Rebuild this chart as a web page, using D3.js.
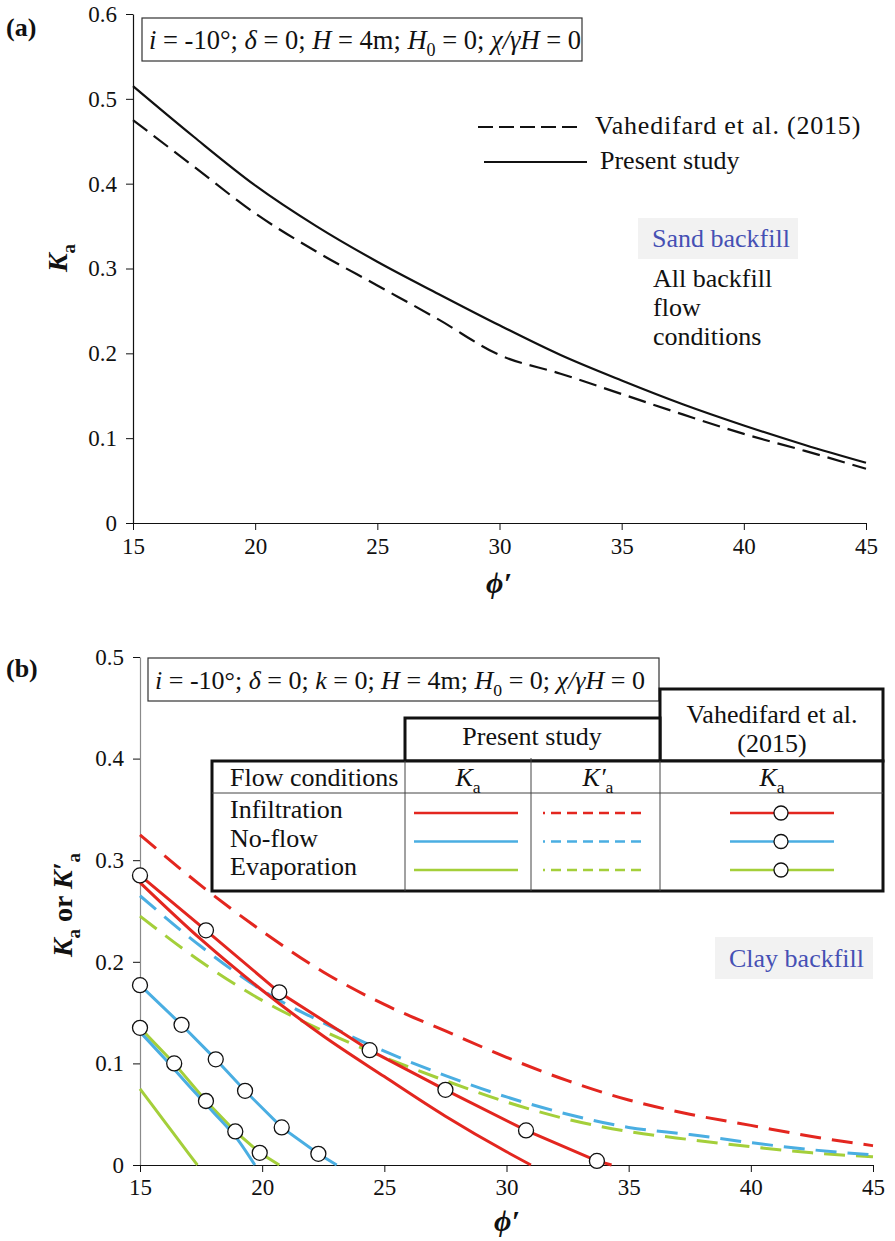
<!DOCTYPE html>
<html>
<head>
<meta charset="utf-8">
<script src="https://cdn.jsdelivr.net/npm/d3@7/dist/d3.min.js"></script>
<style>
  body { margin: 0; background: #fff; }
  svg text { font-family: "Liberation Serif", "Times New Roman", serif; fill: #111; }
</style>
</head>
<body>
<div id="chart"></div>
<script>
// ---- panel (a): sand backfill ----
const phiA = [15, 17.5, 20, 22.5, 25, 27.5, 30, 32.5, 35, 37.5, 40, 42.5, 45];
const presentA = [0.515, 0.455, 0.398, 0.35, 0.308, 0.27, 0.233, 0.198, 0.168, 0.14, 0.115, 0.092, 0.071];
const vahedA = [0.475, 0.42, 0.365, 0.32, 0.28, 0.24, 0.198, 0.176, 0.152, 0.128, 0.105, 0.085, 0.064];
const ticksA_x = [15, 20, 25, 30, 35, 40, 45];
const ticksA_y = [0, 0.1, 0.2, 0.3, 0.4, 0.5, 0.6];

// ---- panel (b): clay backfill ----
const flowNames = ["Infiltration", "No-flow", "Evaporation"];
const flowColors = ["#e3261f", "#4aaee2", "#a4cf3a"];

// K'a (present study, dashed)
const phiB = [15, 17.5, 20, 22.5, 25, 27.5, 30, 32.5, 35, 37.5, 40, 42.5, 45];
const kaPrimeInf = [0.325, 0.275, 0.23, 0.19, 0.158, 0.132, 0.106, 0.083, 0.064, 0.05, 0.039, 0.028, 0.019];
const kaPrimeNo = [0.265, 0.215, 0.172, 0.14, 0.112, 0.088, 0.067, 0.05, 0.037, 0.03, 0.022, 0.015, 0.01];
const kaPrimeEvap = [0.245, 0.2, 0.162, 0.132, 0.106, 0.083, 0.062, 0.045, 0.033, 0.025, 0.018, 0.012, 0.008];

// Ka (present study, solid)
const presInfPhi = [15, 17.5, 20, 22.5, 25, 27.5, 30, 31];
const presInfKa = [0.278, 0.222, 0.172, 0.127, 0.087, 0.048, 0.013, 0];
const presNoPhi = [15, 16, 17, 18, 19, 19.7];
const presNoKa = [0.131, 0.105, 0.078, 0.052, 0.025, 0];
const presEvapPhi = [15, 16, 17, 17.35];
const presEvapKa = [0.075, 0.043, 0.011, 0];

// Ka (Vahedifard et al. 2015, line + circles; last point is where the line meets the axis)
const vInfPhi = [15, 17.7, 20.7, 24.4, 27.5, 30.8, 33.7, 34.3];
const vInfKa = [0.285, 0.231, 0.170, 0.113, 0.074, 0.034, 0.004, 0];
const vNoPhi = [15, 16.7, 18.1, 19.3, 20.8, 22.3, 23.05];
const vNoKa = [0.177, 0.138, 0.104, 0.073, 0.037, 0.011, 0];
const vEvapPhi = [15, 16.4, 17.7, 18.9, 19.9, 20.7];
const vEvapKa = [0.135, 0.100, 0.063, 0.033, 0.012, 0];

const ticksB_x = [15, 20, 25, 30, 35, 40, 45];
const ticksB_y = [0, 0.1, 0.2, 0.3, 0.4, 0.5];

const zip = (xs, ys) => xs.map((x, i) => ({ x, y: ys[i] }));
const fmt = d => (d === 0 ? "0" : d3.format(".1f")(d));

const svg = d3.select("#chart").append("svg")
  .attr("width", 895).attr("height", 1241);

// rich text helper: parts = [text, styles], styles space separated: "it", "bold", "sub"
function rich(text, parts, fs) {
  let shift = 0;
  parts.forEach(([t, s]) => {
    const st = s.split(" ");
    const ts = text.append("tspan").text(t);
    if (st.includes("it")) ts.attr("font-style", "italic");
    if (st.includes("bold")) ts.attr("font-weight", "bold");
    const want = st.includes("sub") ? fs * 0.28 : 0;
    if (st.includes("sub")) ts.attr("font-size", fs * 0.68);
    if (want !== shift) ts.attr("dy", want - shift);
    shift = want;
  });
  return text;
}

function styleAxis(g, color) {
  g.attr("font-family", '"Liberation Serif", serif');
  g.selectAll("text").attr("font-size", 23).attr("fill", "#111");
  g.selectAll(".tick line").attr("stroke", "#111");
  g.select(".domain").attr("stroke", color || "#111").attr("stroke-width", 1.2);
}

// =============== PANEL A ===============
const xA = d3.scaleLinear().domain([15, 45]).range([133, 866]);
const yA = d3.scaleLinear().domain([0, 0.6]).range([523, 14]);

svg.append("g").attr("transform", `translate(0,${yA(0)})`)
  .call(d3.axisBottom(xA).tickValues(ticksA_x).tickSize(7).tickSizeOuter(0).tickPadding(8))
  .call(g => styleAxis(g));
svg.append("g").attr("transform", `translate(${xA(15)},0)`)
  .call(d3.axisLeft(yA).tickValues(ticksA_y).tickFormat(fmt).tickSize(7).tickSizeOuter(0).tickPadding(9))
  .call(g => styleAxis(g));

const lineA = d3.line().x(d => xA(d.x)).y(d => yA(d.y)).curve(d3.curveMonotoneX);
svg.append("path").datum(zip(phiA, vahedA)).attr("d", lineA)
  .attr("fill", "none").attr("stroke", "#111").attr("stroke-width", 2.2)
  .attr("stroke-dasharray", "18,8");
svg.append("path").datum(zip(phiA, presentA)).attr("d", lineA)
  .attr("fill", "none").attr("stroke", "#111").attr("stroke-width", 2.2);

// panel label + axis titles
svg.append("text").attr("x", 6).attr("y", 36).attr("font-size", 26).attr("font-weight", "bold").text("(a)");
rich(svg.append("text").attr("transform", "translate(67,258) rotate(-90)")
  .attr("text-anchor", "middle").attr("font-size", 28).attr("font-weight", "bold"),
  [["K", "it bold"], ["a", "bold sub"]], 28);
svg.append("text").attr("x", 499).attr("y", 593).attr("text-anchor", "middle")
  .attr("font-size", 30).attr("font-weight", "bold").attr("font-style", "italic").text("\u03d5\u2032");

// parameter box
svg.append("rect").attr("x", 142).attr("y", 18).attr("width", 440).attr("height", 43)
  .attr("fill", "#fff").attr("stroke", "#333").attr("stroke-width", 1.2);
rich(svg.append("text").attr("x", 149).attr("y", 49).attr("font-size", 26.5),
  [["i", "it"], [" = -10°; ", ""], ["δ", "it"], [" = 0; ", ""], ["H", "it"], [" = 4m; ", ""],
   ["H", "it"], ["0", "sub"], [" = 0; ", ""], ["χ/γH", "it"], [" = 0", ""]], 26.5);

// legend
const legA = svg.append("g");
legA.append("line").attr("x1", 478).attr("x2", 580).attr("y1", 127).attr("y2", 127)
  .attr("stroke", "#111").attr("stroke-width", 2.2).attr("stroke-dasharray", "15,6");
legA.append("text").attr("x", 595).attr("y", 134).attr("font-size", 26).attr("letter-spacing", 0.8)
  .text("Vahedifard et al. (2015)");
legA.append("line").attr("x1", 484).attr("x2", 587).attr("y1", 162).attr("y2", 162)
  .attr("stroke", "#111").attr("stroke-width", 2.2);
legA.append("text").attr("x", 600).attr("y", 169).attr("font-size", 26).text("Present study");

// sand backfill note
svg.append("rect").attr("x", 638).attr("y", 218).attr("width", 160).attr("height", 41).attr("fill", "#f2f2f2");
svg.append("text").attr("x", 652).attr("y", 247).attr("font-size", 26).style("fill", "#4650b4").text("Sand backfill");
["All backfill", "flow", "conditions"].forEach((t, i) => {
  svg.append("text").attr("x", 653).attr("y", 287 + i * 29).attr("font-size", 26).text(t);
});

// =============== PANEL B ===============
const xB = d3.scaleLinear().domain([15, 45]).range([140, 873]);
const yB = d3.scaleLinear().domain([0, 0.5]).range([1165, 657]);

svg.append("g").attr("transform", `translate(${xB(15)},0)`)
  .call(d3.axisLeft(yB).tickValues(ticksB_y).tickFormat(fmt).tickSize(7).tickSizeOuter(0).tickPadding(9))
  .call(g => styleAxis(g, "#8a8a8a"));
svg.append("g").attr("transform", `translate(0,${yB(0)})`)
  .call(d3.axisBottom(xB).tickValues(ticksB_x).tickSize(7).tickSizeOuter(0).tickPadding(7))
  .call(g => styleAxis(g));

const lineB = d3.line().x(d => xB(d.x)).y(d => yB(d.y)).curve(d3.curveMonotoneX);
const lineBLin = d3.line().x(d => xB(d.x)).y(d => yB(d.y));

const dashed = [kaPrimeInf, kaPrimeNo, kaPrimeEvap];
const solid = [[presInfPhi, presInfKa], [presNoPhi, presNoKa], [presEvapPhi, presEvapKa]];
const vahed = [[vInfPhi, vInfKa], [vNoPhi, vNoKa], [vEvapPhi, vEvapKa]];

const plotB = svg.append("g");
// draw in reverse so infiltration (red) sits on top
[2, 1, 0].forEach(i => {
  plotB.append("path").datum(zip(phiB, dashed[i])).attr("d", lineB)
    .attr("fill", "none").attr("stroke", flowColors[i]).attr("stroke-width", 3)
    .attr("stroke-dasharray", "21,11");
});
[2, 1, 0].forEach(i => {
  plotB.append("path").datum(zip(solid[i][0], solid[i][1])).attr("d", lineB)
    .attr("fill", "none").attr("stroke", flowColors[i]).attr("stroke-width", 3);
  plotB.append("path").datum(zip(vahed[i][0], vahed[i][1])).attr("d", lineBLin)
    .attr("fill", "none").attr("stroke", flowColors[i]).attr("stroke-width", 3);
});
[0, 1, 2].forEach(i => {
  const pts = zip(vahed[i][0], vahed[i][1]).slice(0, -1);
  plotB.selectAll(null).data(pts).enter().append("circle")
    .attr("cx", d => xB(d.x)).attr("cy", d => yB(d.y)).attr("r", 7.5)
    .attr("fill", "#fff").attr("stroke", "#111").attr("stroke-width", 1.3);
});

// labels
svg.append("text").attr("x", 6).attr("y", 677).attr("font-size", 26).attr("font-weight", "bold").text("(b)");
rich(svg.append("text").attr("transform", "translate(72,905) rotate(-90)")
  .attr("text-anchor", "middle").attr("font-size", 28).attr("font-weight", "bold"),
  [["K", "it bold"], ["a", "bold sub"], [" or ", "bold"], ["K\u2032", "it bold"], ["a", "bold sub"]], 28);
svg.append("text").attr("x", 507).attr("y", 1231).attr("text-anchor", "middle")
  .attr("font-size", 30).attr("font-weight", "bold").attr("font-style", "italic").text("\u03d5\u2032");

// parameter box
svg.append("rect").attr("x", 148).attr("y", 658).attr("width", 511).attr("height", 43)
  .attr("fill", "#fff").attr("stroke", "#333").attr("stroke-width", 1.2);
rich(svg.append("text").attr("x", 155).attr("y", 689).attr("font-size", 26),
  [["i", "it"], [" = -10°; ", ""], ["δ", "it"], [" = 0; ", ""], ["k", "it"], [" = 0; ", ""],
   ["H", "it"], [" = 4m; ", ""], ["H", "it"], ["0", "sub"], [" = 0; ", ""], ["χ/γH", "it"], [" = 0", ""]], 26);

// legend table
const tb = svg.append("g");
const box = (x, y, w, h) => tb.append("rect").attr("x", x).attr("y", y).attr("width", w).attr("height", h)
  .attr("fill", "#fff").attr("stroke", "#111").attr("stroke-width", 3);
box(660, 689, 223, 72);
box(405, 718, 255, 43);
box(212, 761, 671, 130);
const thin = (x1, y1, x2, y2) => tb.append("line").attr("x1", x1).attr("y1", y1).attr("x2", x2).attr("y2", y2)
  .attr("stroke", "#444").attr("stroke-width", 1);
thin(212, 793, 883, 793);
thin(405, 761, 405, 891);
thin(531, 758, 531, 891);
thin(660, 761, 660, 891);

tb.append("text").attr("x", 532).attr("y", 745).attr("text-anchor", "middle").attr("font-size", 26).text("Present study");
tb.append("text").attr("x", 772).attr("y", 723).attr("text-anchor", "middle").attr("font-size", 26).text("Vahedifard et al.");
tb.append("text").attr("x", 772).attr("y", 752).attr("text-anchor", "middle").attr("font-size", 26).text("(2015)");
tb.append("text").attr("x", 230).attr("y", 786).attr("font-size", 26).text("Flow conditions");
rich(tb.append("text").attr("x", 468).attr("y", 786).attr("text-anchor", "middle").attr("font-size", 26),
  [["K", "it"], ["a", "sub"]], 26);
rich(tb.append("text").attr("x", 598).attr("y", 786).attr("text-anchor", "middle").attr("font-size", 26),
  [["K\u2032", "it"], ["a", "sub"]], 26);
rich(tb.append("text").attr("x", 772).attr("y", 786).attr("text-anchor", "middle").attr("font-size", 26),
  [["K", "it"], ["a", "sub"]], 26);

flowNames.forEach((name, i) => {
  const yy = 813 + i * 28.5;
  tb.append("text").attr("x", 230).attr("y", yy + 5).attr("font-size", 26).text(name);
  tb.append("line").attr("x1", 414).attr("x2", 518).attr("y1", yy).attr("y2", yy)
    .attr("stroke", flowColors[i]).attr("stroke-width", 2.5);
  tb.append("line").attr("x1", 543).attr("x2", 647).attr("y1", yy).attr("y2", yy)
    .attr("stroke", flowColors[i]).attr("stroke-width", 2.5).attr("stroke-dasharray", "2,6,10,6,10,6,10,6,10,6,10,6,10,6,10");
  tb.append("line").attr("x1", 730).attr("x2", 834).attr("y1", yy).attr("y2", yy)
    .attr("stroke", flowColors[i]).attr("stroke-width", 2.5);
  tb.append("circle").attr("cx", 781).attr("cy", yy).attr("r", 7)
    .attr("fill", "#fff").attr("stroke", "#111").attr("stroke-width", 1.3);
});

// clay backfill note
svg.append("rect").attr("x", 715).attr("y", 937).attr("width", 158).attr("height", 42).attr("fill", "#f2f2f2");
svg.append("text").attr("x", 729).attr("y", 967).attr("font-size", 26).style("fill", "#4650b4").text("Clay backfill");
</script>
</body>
</html>
